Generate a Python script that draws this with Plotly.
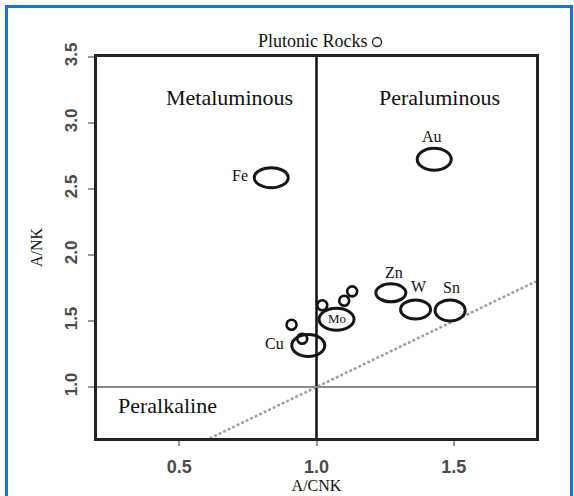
import plotly.graph_objects as go

# ---------------- data ----------------
deposit_names = ["Fe", "Au", "Zn", "W", "Sn", "Mo", "Cu"]
deposit_acnk = [0.835, 1.429, 1.271, 1.361, 1.487, 1.073, 0.970]
deposit_ank = [2.586, 2.726, 1.714, 1.587, 1.580, 1.514, 1.314]

label_acnk = [0.72, 1.421, 1.284, 1.375, 1.492, 1.074, 0.848]
label_ank = [2.60, 2.90, 1.866, 1.76, 1.755, 1.52, 1.331]

plutonic_acnk = [0.909, 0.948, 1.021, 1.101, 1.130]
plutonic_ank = [1.472, 1.366, 1.619, 1.654, 1.725]

region_names = ["Metaluminous", "Peraluminous", "Peralkaline"]
region_acnk = [0.684, 1.447, 0.458]
region_ank = [3.197, 3.19, 0.864]

acnk_boundary = 1.0
ank_boundary = 1.0
equal_line = [0.2, 1.8]

x_ticks = [0.5, 1.0, 1.5]
x_tick_text = ["0.5", "1.0", "1.5"]
y_ticks = [1.0, 1.5, 2.0, 2.5, 3.0, 3.5]
y_tick_text = ["1.0", "1.5", "2.0", "2.5", "3.0", "3.5"]

# ---------------- styling ----------------
W, H = 574, 496
ML, MR, MT, MB = 97, 38, 57, 58
PW, PH = W - ML - MR, H - MT - MB
SERIF = "Liberation Serif, Times New Roman, serif"
SANS = "Liberation Sans, Arial, sans-serif"

ellipse_px = {"Fe": (34, 20), "Au": (34, 22), "Zn": (30, 18), "W": (30, 19),
              "Sn": (30, 21), "Mo": (35, 22), "Cu": (33, 22)}
label_size = {"Mo": 13}


def px_to_paper_x(px):
    return (px - ML) / PW


def px_to_paper_y(py):
    return (H - MB - py) / PH


fig = go.Figure()

# A/CNK = A/NK line (dotted)
fig.add_trace(go.Scatter(
    x=equal_line, y=equal_line, mode="lines",
    line=dict(color="#a0a0a0", width=2.5, dash="3px,2px"),
    showlegend=False, hoverinfo="skip"))

# plutonic rocks
fig.add_trace(go.Scatter(
    x=plutonic_acnk, y=plutonic_ank, mode="markers", name="Plutonic Rocks",
    marker=dict(symbol="circle-open", size=10, color="#111",
                line=dict(width=2.6, color="#111")),
    showlegend=False))

shapes = []
# boundaries
shapes.append(dict(type="line", xref="x", yref="y domain", x0=acnk_boundary, x1=acnk_boundary,
                   y0=0, y1=1, line=dict(color="#111", width=2.5), layer="above"))
shapes.append(dict(type="line", xref="x domain", yref="y", x0=0, x1=1,
                   y0=ank_boundary, y1=ank_boundary, line=dict(color="#8a8a8a", width=2), layer="above"))

# deposit ellipses
for name, cx, cy in zip(deposit_names, deposit_acnk, deposit_ank):
    w, h = ellipse_px[name]
    shapes.append(dict(type="circle", xref="x", yref="y",
                       xsizemode="pixel", ysizemode="pixel",
                       xanchor=cx, yanchor=cy,
                       x0=-w / 2, x1=w / 2, y0=-h / 2, y1=h / 2,
                       line=dict(color="#161616", width=3)))

# legend-like circle next to "Plutonic Rocks"
shapes.append(dict(type="circle", xref="paper", yref="paper",
                   xsizemode="pixel", ysizemode="pixel",
                   xanchor=px_to_paper_x(377), yanchor=px_to_paper_y(42),
                   x0=-4.5, x1=4.5, y0=-4.5, y1=4.5,
                   line=dict(color="#222", width=1.3)))

# blue frame around the picture
shapes.append(dict(type="rect", xref="paper", yref="paper",
                   x0=px_to_paper_x(6.5), x1=px_to_paper_x(571.5),
                   y0=px_to_paper_y(520), y1=px_to_paper_y(6.5),
                   line=dict(color="#1a73cc", width=3)))

annotations = []
for name, lx, ly in zip(deposit_names, label_acnk, label_ank):
    annotations.append(dict(x=lx, y=ly, xref="x", yref="y", text=name, showarrow=False,
                            xanchor="center", yanchor="middle",
                            font=dict(family=SERIF, size=label_size.get(name, 16), color="#111")))
for name, rx, ry in zip(region_names, region_acnk, region_ank):
    annotations.append(dict(x=rx, y=ry, xref="x", yref="y", text=name, showarrow=False,
                            xanchor="center", yanchor="middle",
                            font=dict(family=SERIF, size=22, color="#111")))
annotations.append(dict(x=px_to_paper_x(313), y=px_to_paper_y(41), xref="paper", yref="paper",
                        text="Plutonic Rocks", showarrow=False,
                        xanchor="center", yanchor="middle",
                        font=dict(family=SERIF, size=18, color="#111")))

fig.update_layout(
    width=W, height=H,
    margin=dict(l=ML, r=MR, t=MT, b=MB, autoexpand=False),
    paper_bgcolor="white", plot_bgcolor="white",
    shapes=shapes, annotations=annotations,
    showlegend=False,
    xaxis=dict(range=[0.2, 1.8], tickvals=x_ticks, ticktext=x_tick_text,
               showgrid=False, zeroline=False, automargin=False,
               showline=True, mirror=True, linecolor="#222", linewidth=2.5,
               ticks="outside", ticklen=5, tickwidth=1.5, tickcolor="#999",
               ticklabelstandoff=6,
               tickfont=dict(family=SANS, size=18, color="#4a4a4a", weight="bold"),
               title=dict(text="A/CNK", standoff=2,
                          font=dict(family=SERIF, size=16, color="#111"))),
    yaxis=dict(range=[0.614, 3.5], tickvals=y_ticks, ticktext=y_tick_text,
               showgrid=False, zeroline=False, automargin=False,
               showline=True, mirror=True, linecolor="#222", linewidth=2.5,
               ticks="outside", ticklen=6, tickwidth=1.5, tickcolor="#999",
               tickangle=-90, ticklabelstandoff=4,
               tickfont=dict(family=SANS, size=17, color="#4a4a4a", weight="bold"),
               title=dict(text="A/NK", standoff=16,
                          font=dict(family=SERIF, size=16, color="#111"))),
)

fig.write_html("out.html", config={"displayModeBar": False},
               post_script="document.body.style.margin='0px';")
